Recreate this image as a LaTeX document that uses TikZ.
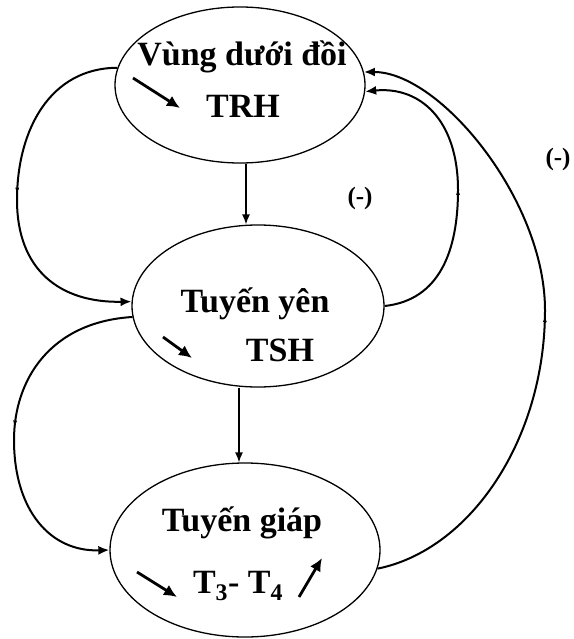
\documentclass[tikz,border=0pt]{standalone}
\usepackage{fontspec}
\setmainfont{Liberation Serif}
\usetikzlibrary{shapes.geometric,arrows.meta,decorations.markings}
\begin{document}
\begin{tikzpicture}[x=1pt,y=-1pt,
  organ/.style={draw,ellipse,line width=1.3pt,inner sep=0pt},
  lbl/.style={font=\fontsize{34}{40}\selectfont\bfseries,inner sep=0pt,anchor=base},
  feed/.style={line width=2pt,-{Latex[length=11pt,width=9pt]}},
  down/.style={line width=1.3pt,-{Latex[length=10pt,width=8pt]}},
  trend/.style={line width=2.8pt,-{Latex[length=13pt,width=12pt]}},
  sign/.style={font=\fontsize{25}{30}\selectfont\bfseries,inner sep=0pt},
  midmark/.style={postaction={decorate},decoration={markings,mark=at position #1 with {\arrow{Latex[length=7pt,width=4pt]}}}}
]
\useasboundingbox (0,0) rectangle (573,639);
\fill[white] (0,0) rectangle (573,639);

\node[organ,minimum width=250pt,minimum height=156pt] (hyp) at (240,85) {};
\node[organ,minimum width=252pt,minimum height=162pt] (pit) at (258,306) {};
\node[organ,minimum width=270pt,minimum height=174pt] (thy) at (245,550) {};

\node[lbl] (t1) at (242,66) {Vùng dưới đồi};
\node[lbl] (t2) at (243,118) {TRH};
\node[lbl] (t3) at (255,312) {Tuyến yên};
\node[lbl] (t4) at (280,361) {TSH};
\node[lbl] (t5) at (242,531) {Tuyến giáp};
\node[lbl] (t6) at (238,593) {T\textsubscript{3}- T\textsubscript{4}};

\node[sign] (s1) at (360,198) {(-)};
\node[sign] (s2) at (558,159) {(-)};

\coordinate (v1) at (246,0);
\coordinate (v2) at (239,0);
\draw[down] (hyp.south -| v1) -- (pit.north -| v1);
\draw[down] (pit.south -| v2) -- (thy.north -| v2);

\draw[feed,midmark=0.5] (hyp.172) .. controls (50,68) and (17,130) .. (17,200) .. controls (17,270) and (60,303) .. (pit.178);
\draw[feed,midmark=0.5] (pit.185) .. controls (50,322) and (14,380) .. (14,440) .. controls (14,510) and (50,552) .. (thy.180);
\draw[feed,midmark=0.5] (pit.0) .. controls (440,300) and (458,250) .. (458,190) .. controls (458,120) and (420,86) .. (hyp.-3);
\draw[feed,midmark=0.5] (thy.-8) .. controls (470,550) and (545,440) .. (545,310) .. controls (545,200) and (440,72) .. (hyp.6);

\draw[trend] (133,78) -- (180,108);
\draw[trend] (163,337) -- (192,358);
\draw[trend] (137,572) -- (177,597);
\draw[trend] (299,597) -- (322,558);
\end{tikzpicture}
\end{document}
